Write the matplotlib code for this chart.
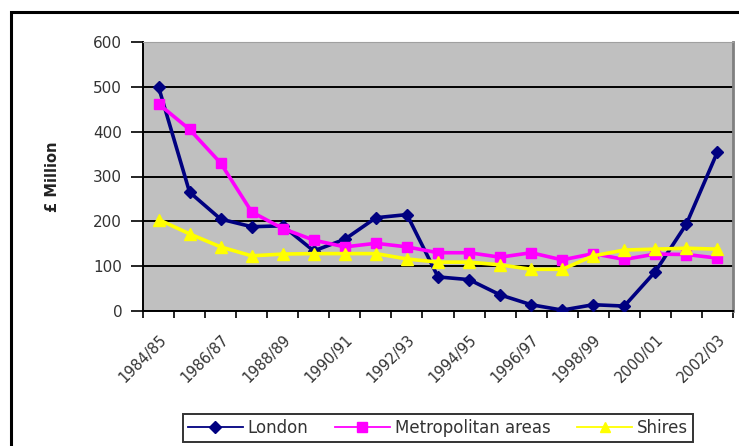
import numpy as np
import matplotlib.pyplot as plt
from matplotlib.patches import Rectangle

plt.rcParams['font.family'] = ['DejaVu Sans']

# Series values (£ million)
years = ['1984/85', '1985/86', '1986/87', '1987/88', '1988/89', '1989/90', '1990/91',
         '1991/92', '1992/93', '1993/94', '1994/95', '1995/96', '1996/97', '1997/98',
         '1998/99', '1999/00', '2000/01', '2001/02', '2002/03']
london = [500, 265, 205, 188, 190, 134, 160, 208, 215, 76, 70, 36, 14, 2, 14, 11, 88, 194, 355]
metropolitan = [462, 405, 330, 221, 184, 158, 143, 151, 143, 130, 130, 120, 130, 114, 128, 115, 127, 126, 118]
shires = [204, 172, 143, 123, 127, 128, 128, 128, 116, 109, 109, 103, 93, 93, 123, 136, 138, 140, 138]

fig = plt.figure(figsize=(7.39, 4.46), dpi=100)
fig.patch.set_facecolor('white')

# outer chart frame
fig.patches.append(Rectangle((11/739, -0.1), 1.2, 1 - 12/446 + 0.1, transform=fig.transFigure,
                             fill=False, edgecolor='black', linewidth=2.2, zorder=0))

ax = fig.add_axes([143/739, 1 - 311/446, 590/739, 269/446])
ax.set_facecolor('#C0C0C0')

x = np.arange(len(years))
ax.plot(x, london, color='#000080', marker='D', markersize=6.5, linewidth=2.6, label='London', zorder=3)
ax.plot(x, metropolitan, color='#FF00FF', marker='s', markersize=7, linewidth=2.6,
        label='Metropolitan areas', zorder=3)
ax.plot(x, shires, color='#FFFF00', marker='^', markersize=8.5, linewidth=2.6, label='Shires', zorder=3)

ax.set_xlim(-0.5, len(years) - 0.5)
ax.set_ylim(0, 600)
ax.set_yticks(range(0, 601, 100))
ax.yaxis.grid(True, color='black', linewidth=1.4)
ax.set_axisbelow(True)

# tick marks between categories, labels on every other year
ax.set_xticks(np.arange(-0.5, len(years), 1.0))
ax.set_xticklabels([])
ax.set_xticks(x[::2], minor=True)
ax.set_xticklabels(years[::2], minor=True, rotation=45, ha='right', rotation_mode='anchor',
                   fontsize=10.5, color='#333333')
ax.tick_params(axis='x', which='major', length=5, width=1.2, direction='out')
ax.tick_params(axis='x', which='minor', length=0, pad=15)
ax.tick_params(axis='y', length=9, width=1.2, direction='out', labelsize=11, pad=6,
               labelcolor='#333333')

for side in ['left', 'bottom']:
    ax.spines[side].set_linewidth(1.4)
    ax.spines[side].set_color('black')
ax.spines['top'].set_color('#A0A0A0')
ax.spines['right'].set_color('#808080')
ax.spines['right'].set_linewidth(2)

ax.set_ylabel('£ Million', fontsize=10.5, fontweight='bold', labelpad=24, color='#222222')

leg = fig.legend(loc='center', bbox_to_anchor=(438/739, 1 - 428/446), ncol=3, frameon=True,
                 fancybox=False, edgecolor='black', fontsize=12, handlelength=3.3,
                 columnspacing=1.6, handletextpad=0.3, borderpad=0.3)
leg.get_frame().set_linewidth(1.4)
for txt in leg.get_texts():
    txt.set_color('#333333')
for h in leg.legend_handles:
    h.set_linewidth(1.3)
    h.set_markersize(6.5)

fig.savefig('out.png', dpi=100)
